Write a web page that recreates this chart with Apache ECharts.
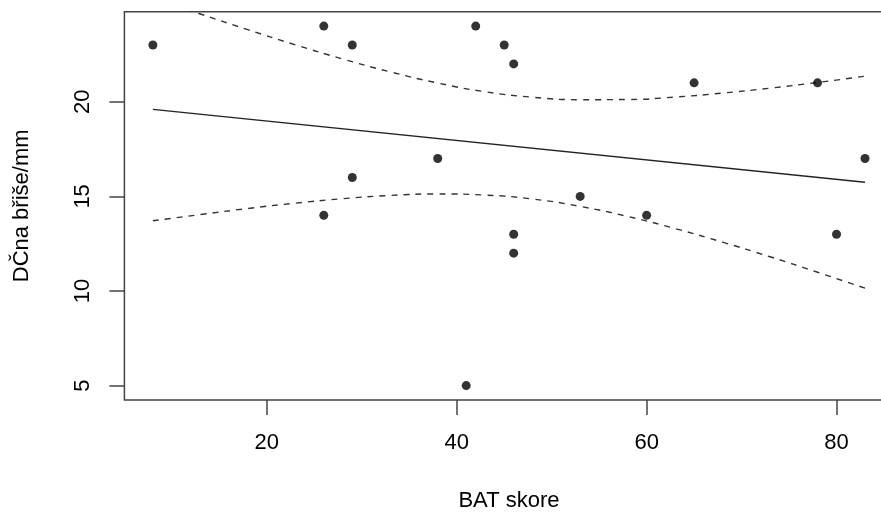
<!DOCTYPE html>
<html>
<head>
<meta charset="utf-8">
<script src="https://cdn.jsdelivr.net/npm/echarts@6/dist/echarts.min.js"></script>
<style>
html,body{margin:0;padding:0;background:#fff;}
#c{width:881px;height:513px;}
</style>
</head>
<body>
<div id="c"></div>
<script>
// Observed points
const batScore = [8, 26, 29, 42, 45, 46, 65, 78, 83, 38, 29, 26, 53, 60, 46, 46, 80, 41];
const dcnaBrise = [23, 24, 23, 24, 23, 22, 21, 21, 17, 17, 16, 14, 15, 14, 13, 12, 13, 5];
// Fitted line
const fitX = [8, 83];
const fitY = [19.60, 15.75];
// Dashed band curves
const bandX = [8, 13, 18, 23, 28, 33, 38, 43, 48, 53, 58, 63, 68, 73, 78, 83];
const bandUpper = [25.49, 24.64, 23.81, 23.01, 22.26, 21.58, 20.99, 20.53, 20.24, 20.11, 20.12, 20.25, 20.46, 20.72, 21.02, 21.35];
const bandLower = [13.71, 14.04, 14.36, 14.64, 14.88, 15.05, 15.13, 15.07, 14.86, 14.47, 13.94, 13.30, 12.58, 11.81, 10.99, 10.15];
// Tick labels
const xTicks = [20, 40, 60, 80];
const yTicks = [5, 10, 15, 20];
const xTitle = 'BAT skore';
const yTitle = 'DČna břiše/mm';

const FONT = 'Liberation Sans, Arial, sans-serif';
const pair = (a, b) => a.map((v, i) => [v, b[i]]);

const chart = echarts.init(document.getElementById('c'), null, {renderer: 'canvas'});
chart.setOption({
  animation: false,
  backgroundColor: '#fff',
  grid: {
    left: 124.4, right: -12.5, top: 11.7, bottom: 113,
    show: true, borderColor: '#444', borderWidth: 1.5, backgroundColor: 'transparent',
    containLabel: false, outerBoundsMode: 'none'
  },
  xAxis: {
    type: 'value', min: 5, max: 86,
    name: xTitle, nameLocation: 'middle', nameGap: 90,
    nameTextStyle: {fontSize: 22, color: '#000', fontFamily: FONT},
    axisLine: {show: false},
    splitLine: {show: false},
    axisTick: {show: true, customValues: xTicks, length: 15, inside: false, lineStyle: {color: '#444', width: 1.5}},
    axisLabel: {customValues: xTicks, fontSize: 22, color: '#000', fontFamily: FONT, margin: 32}
  },
  yAxis: {
    type: 'value', min: 4.24, max: 24.76,
    name: yTitle, nameLocation: 'middle', nameGap: 91, nameRotate: 90,
    nameTextStyle: {fontSize: 22, color: '#000', fontFamily: FONT},
    axisLine: {show: false},
    splitLine: {show: false},
    axisTick: {show: true, customValues: yTicks, length: 15, inside: false, lineStyle: {color: '#444', width: 1.5}},
    axisLabel: {customValues: yTicks, rotate: 90, fontSize: 22, color: '#000', fontFamily: FONT, margin: 30}
  },
  series: [
    {
      type: 'line', data: pair(fitX, fitY), symbol: 'none', clip: true,
      lineStyle: {color: '#222', width: 1.4}, z: 2
    },
    {
      type: 'line', data: pair(bandX, bandUpper), symbol: 'none', smooth: true, clip: true,
      lineStyle: {color: '#333', width: 1.4, type: [6, 6]}, z: 2
    },
    {
      type: 'line', data: pair(bandX, bandLower), symbol: 'none', smooth: true, clip: true,
      lineStyle: {color: '#333', width: 1.4, type: [6, 6]}, z: 2
    },
    {
      type: 'scatter', data: pair(batScore, dcnaBrise), symbol: 'circle', symbolSize: 9,
      itemStyle: {color: '#000'}, z: 3
    }
  ]
});
</script>
</body>
</html>
